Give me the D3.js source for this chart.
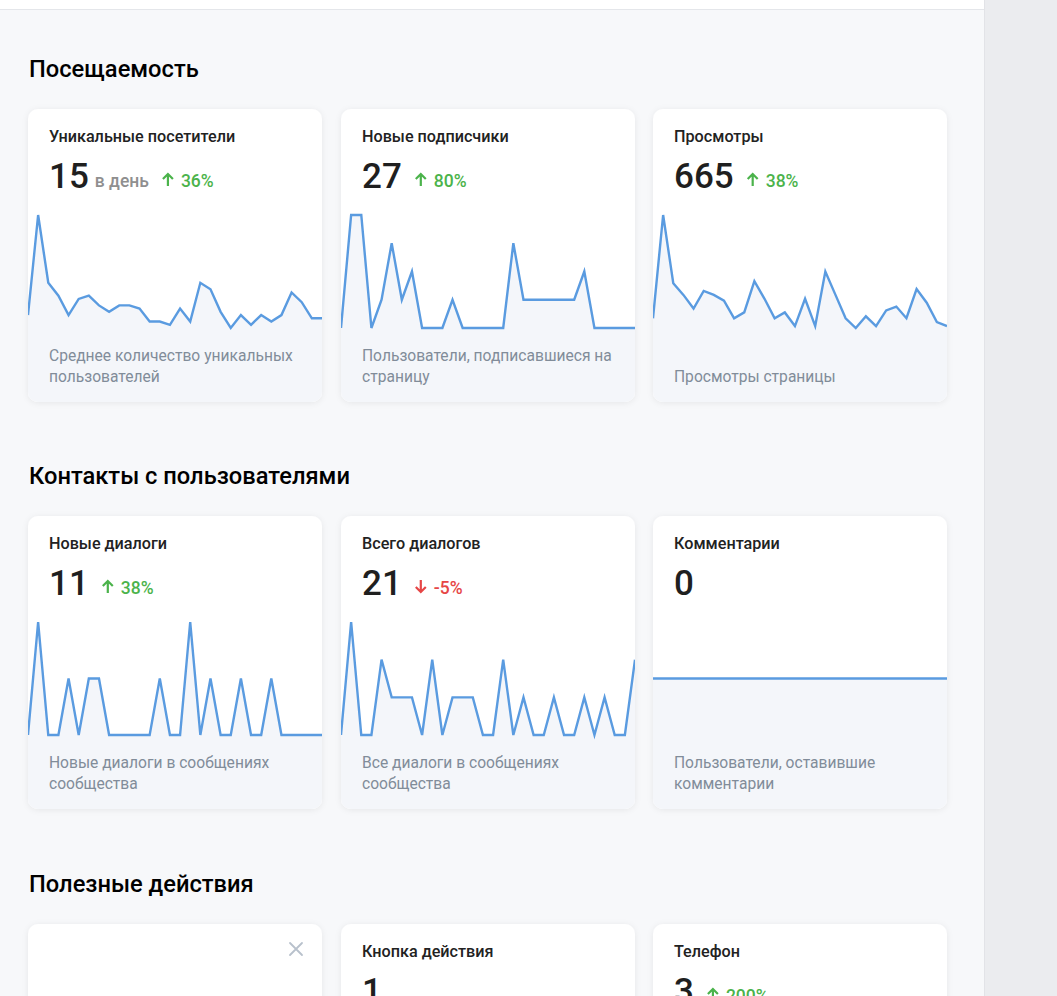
<!DOCTYPE html>
<html>
<head>
<meta charset="utf-8">
<script src="https://cdn.jsdelivr.net/npm/d3@7"></script>
<style>
  body { margin: 0; background: #f7f8fa; font-family: Roboto, "Noto Sans", sans-serif; }
  svg { display: block; }
</style>
</head>
<body>
<div id="chart"></div>
<script>
// Section headers
var sectionTitles = ["Посещаемость", "Контакты с пользователями", "Полезные действия"];

// Card texts (row by row)
var cardTitles = ["Уникальные посетители", "Новые подписчики", "Просмотры",
                  "Новые диалоги", "Всего диалогов", "Комментарии",
                  "", "Кнопка действия", "Телефон"];
var cardValues = ["15", "27", "665", "11", "21", "0", "", "1", "3"];
var cardUnits = ["в день", "", "", "", "", "", "", "", ""];
var cardChanges = [36, 80, 38, 38, -5, null, null, null, 200];
var cardNotes = [
    ["Среднее количество уникальных", "пользователей"],
    ["Пользователи, подписавшиеся на", "страницу"],
    ["Просмотры страницы"],
    ["Новые диалоги в сообщениях", "сообщества"],
    ["Все диалоги в сообщениях", "сообщества"],
    ["Пользователи, оставившие", "комментарии"],
    [], [], []
];

// Daily series for the sparklines (30 days)
var visitors = [12, 43, 22, 18, 12, 17, 18, 15, 13, 15, 15, 14, 10, 10, 9, 14, 10, 22, 20, 13, 8, 12, 9, 12, 10, 12, 19, 16, 11, 11];
var subscribers = [0, 4, 4, 0, 1, 3, 1, 2, 0, 0, 0, 1, 0, 0, 0, 0, 0, 3, 1, 1, 1, 1, 1, 1, 2, 0, 0, 0, 0, 0];
var views = [15, 68, 33, 27, 20, 29, 27, 24, 15, 18, 34, 25, 15, 18, 11, 25, 11, 39, 27, 15, 10, 16, 11, 19, 21, 15, 30, 23, 13, 11];
var newDialogs = [0, 2, 0, 0, 1, 0, 1, 1, 0, 0, 0, 0, 0, 1, 0, 0, 2, 0, 1, 0, 0, 1, 0, 0, 1, 0, 0, 0, 0, 0];
var allDialogs = [0, 3, 0, 0, 2, 1, 1, 1, 0, 2, 0, 1, 1, 1, 0, 0, 2, 0, 1, 0, 0, 1, 0, 0, 1, 0, 1, 0, 0, 2];
var comments = [0, 0, 0, 0, 0, 0, 0, 0, 0, 0, 0, 0, 0, 0, 0, 0, 0, 0, 0, 0, 0, 0, 0, 0, 0, 0, 0, 0, 0, 0];
var cardSeries = [visitors, subscribers, views, newDialogs, allDialogs, comments, null, null, null];

// Layout
var width = 1057, height = 996;
var contentWidth = 984;
var colX = [28, 341, 653];
var rowY = [109, 516, 924];
var headerY = [77, 484, 892];
var cardW = 294, cardH = 293;
var sparkTop = 106, sparkBottom = 219;

var lineColor = "#5a9be0";
var green = "#4bb34b", red = "#e64646";

var svg = d3.select("#chart")
    .append("svg")
    .attr("width", width)
    .attr("height", height);

var defs = svg.append("defs");
var shadow = defs.append("filter")
    .attr("id", "cardShadow")
    .attr("x", "-10%").attr("y", "-10%")
    .attr("width", "120%").attr("height", "120%");
shadow.append("feDropShadow")
    .attr("dx", 0).attr("dy", 1)
    .attr("stdDeviation", 3)
    .attr("flood-color", "#000")
    .attr("flood-opacity", 0.07);

defs.append("clipPath")
    .attr("id", "cardClip")
    .append("rect")
    .attr("width", cardW)
    .attr("height", cardH)
    .attr("rx", 10);

// Page background
svg.append("rect")
    .attr("width", contentWidth).attr("height", height)
    .attr("fill", "#f7f8fa");
svg.append("rect")
    .attr("width", contentWidth).attr("height", 9)
    .attr("fill", "#ffffff");
svg.append("line")
    .attr("x1", 0).attr("x2", contentWidth)
    .attr("y1", 9.5).attr("y2", 9.5)
    .attr("stroke", "#e4e6ea");
svg.append("rect")
    .attr("x", contentWidth).attr("width", width - contentWidth).attr("height", height)
    .attr("fill", "#ebecef");
svg.append("line")
    .attr("x1", contentWidth + 0.5).attr("x2", contentWidth + 0.5)
    .attr("y1", 0).attr("y2", height)
    .attr("stroke", "#e2e3e7");

// Section titles
svg.selectAll(".sectionTitle")
    .data(sectionTitles)
    .enter().append("text")
    .attr("class", "sectionTitle")
    .attr("x", 29)
    .attr("y", function (d, i) { return headerY[i]; })
    .attr("font-size", 23.7)
    .attr("font-weight", 500)
    .attr("fill", "#000")
    .text(function (d) { return d; });

// Cards
var cards = svg.selectAll(".card")
    .data(cardTitles.map(function (t, i) { return i; }))
    .enter().append("g")
    .attr("class", "card")
    .attr("transform", function (i) {
        return "translate(" + colX[i % 3] + "," + rowY[Math.floor(i / 3)] + ")";
    });

cards.append("rect")
    .attr("width", cardW)
    .attr("height", cardH)
    .attr("rx", 10)
    .attr("fill", "#fff")
    .attr("filter", "url(#cardShadow)");

cards.each(function (i) {
    var g = d3.select(this);
    var data = cardSeries[i];

    // Sparkline
    if (data) {
        var x = d3.scaleLinear().domain([0, data.length - 1]).range([0, cardW]);
        var y = d3.scaleLinear().domain(d3.extent(data)).range([sparkBottom, sparkTop]);
        var spark = g.append("g").attr("clip-path", "url(#cardClip)");
        var area = d3.area()
            .x(function (d, j) { return x(j); })
            .y0(cardH)
            .y1(function (d) { return y(d); });
        var line = d3.line()
            .x(function (d, j) { return x(j); })
            .y(function (d) { return y(d); });
        spark.append("path")
            .attr("d", area(data))
            .attr("fill", "#f4f6fa");
        spark.append("path")
            .attr("d", line(data))
            .attr("fill", "none")
            .attr("stroke", lineColor)
            .attr("stroke-width", 2.4)
            .attr("stroke-linejoin", "miter");
    }

    // Title
    if (cardTitles[i]) {
        g.append("text")
            .attr("x", 21).attr("y", 33)
            .attr("font-size", 16.2)
            .attr("font-weight", 500)
            .attr("fill", "#222")
            .text(cardTitles[i]);
    }

    // Close icon on the empty card
    if (!cardTitles[i]) {
        g.append("path")
            .attr("d", "M262,19 L274,31 M274,19 L262,31")
            .attr("stroke", "#b8c1cc")
            .attr("stroke-width", 1.8)
            .attr("stroke-linecap", "round");
    }

    // Big number
    var nx = 21;
    if (cardValues[i]) {
        var num = g.append("text")
            .attr("x", 21).attr("y", 79)
            .attr("font-size", 35)
            .attr("font-weight", 500)
            .attr("fill", "#1f1f1f")
            .text(cardValues[i]);
        nx = 21 + num.node().getComputedTextLength();
    }

    if (cardUnits[i]) {
        var unit = g.append("text")
            .attr("x", nx + 6).attr("y", 78)
            .attr("font-size", 17.5)
            .attr("font-weight", 500)
            .attr("fill", "#8f8f8f")
            .text(cardUnits[i]);
        nx = nx + 6 + unit.node().getComputedTextLength();
    }

    // Change vs previous period
    var ch = cardChanges[i];
    if (ch !== null) {
        var col = ch >= 0 ? green : red;
        var ax = nx + 13, base = 77;
        var arrow = ch >= 0
            ? "M" + (ax + 6) + "," + (base) + " V" + (base - 12) + " M" + (ax + 1) + "," + (base - 7) + " L" + (ax + 6) + "," + (base - 12) + " L" + (ax + 11) + "," + (base - 7)
            : "M" + (ax + 6) + "," + (base - 13) + " V" + (base - 1) + " M" + (ax + 1) + "," + (base - 6) + " L" + (ax + 6) + "," + (base - 1) + " L" + (ax + 11) + "," + (base - 6);
        g.append("path")
            .attr("d", arrow)
            .attr("fill", "none")
            .attr("stroke", col)
            .attr("stroke-width", 2.2);
        g.append("text")
            .attr("x", ax + 19).attr("y", 78)
            .attr("font-size", 17.5)
            .attr("font-weight", 500)
            .attr("fill", col)
            .text(ch + "%");
    }

    // Description, bottom aligned
    var notes = cardNotes[i];
    g.selectAll(".note")
        .data(notes)
        .enter().append("text")
        .attr("class", "note")
        .attr("x", 21)
        .attr("y", function (d, k) { return 273 - (notes.length - 1 - k) * 21; })
        .attr("font-size", 15.6)
        .attr("fill", "#818c99")
        .text(function (d) { return d; });
});
</script>
</body>
</html>
